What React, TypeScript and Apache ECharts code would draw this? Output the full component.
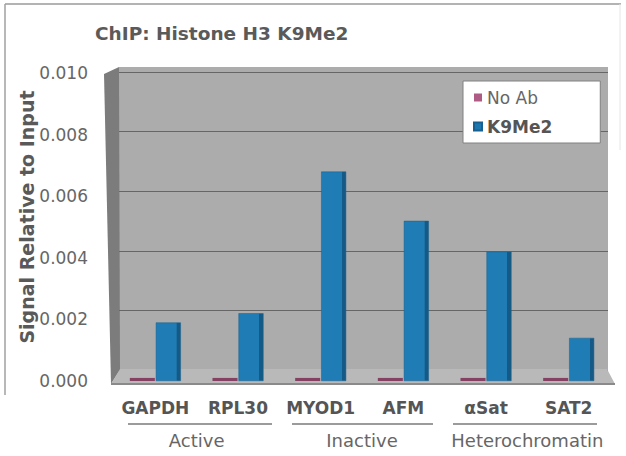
import React, { useEffect, useRef } from "react";
import * as echarts from "echarts";

const categories = ["GAPDH", "RPL30", "MYOD1", "AFM", "αSat", "SAT2"];
const groups = ["Active", "Inactive", "Heterochromatin"];
const noAbValues = [0.0001, 0.0001, 0.0001, 0.0001, 0.0001, 0.0001];
const k9me2Values = [0.0019, 0.0022, 0.0068, 0.0052, 0.0042, 0.0014];
const yMin = 0;
const yMax = 0.01;
const yStep = 0.002;

const FONT = "DejaVu Sans";

export default function App() {
  const ref = useRef<HTMLDivElement>(null);
  useEffect(() => {
    if (!ref.current) return;
    const chart = echarts.init(ref.current, null, { renderer: "svg" });
    const option: any = {
      animation: false,
      backgroundColor: "#ffffff",
      textStyle: { fontFamily: FONT },
      title: {
        text: "ChIP: Histone H3 K9Me2",
        left: 90,
        top: 19,
        textStyle: { fontFamily: FONT, fontSize: 18.5, fontWeight: "bold", color: "#5a5a5a" },
      },
      legend: {
        orient: "vertical",
        left: 463,
        top: 81,
        backgroundColor: "#ffffff",
        borderColor: "#808080",
        borderWidth: 1,
        padding: [8, 48, 8, 10],
        itemGap: 12,
        itemWidth: 8,
        itemHeight: 8,
        icon: "rect",
        data: [
          { name: "No Ab", itemStyle: { color: "#a0406e" }, textStyle: { fontFamily: FONT, fontSize: 17, color: "#666666" } },
          { name: "K9Me2", itemStyle: { color: "#1f77b0" }, textStyle: { fontFamily: FONT, fontSize: 17, fontWeight: "bold", color: "#555555" } },
        ],
      },
      grid: [
        { left: 119, right: 18, top: 72, bottom: 86, outerBoundsMode: "none", containLabel: false },
        { left: 114, right: 16, top: 73, bottom: 75, outerBoundsMode: "none", containLabel: false },
      ],
      xAxis: [
        { type: "category", gridIndex: 0, data: categories, show: false },
        {
          type: "category",
          gridIndex: 1,
          data: categories,
          axisLine: { show: false },
          axisTick: { show: false },
          axisLabel: { fontFamily: FONT, fontSize: 17, fontWeight: "bold", color: "#555555", margin: 18, interval: 0 },
        },
        {
          type: "category",
          gridIndex: 1,
          data: groups,
          position: "bottom",
          offset: 48,
          axisLine: { show: false },
          axisTick: { show: false },
          axisLabel: { fontFamily: FONT, fontSize: 18, color: "#666666", margin: 2, interval: 0 },
        },
      ],
      yAxis: [
        {
          type: "value",
          gridIndex: 0,
          min: yMin,
          max: yMax,
          interval: yStep,
          axisLabel: { show: false },
          axisLine: { show: false },
          axisTick: { show: false },
          splitLine: { show: true, lineStyle: { color: "#666666", width: 1.2 } },
        },
        {
          type: "value",
          gridIndex: 1,
          min: yMin,
          max: yMax,
          interval: yStep,
          axisLine: { show: false },
          axisTick: { show: false },
          splitLine: { show: false },
          axisLabel: {
            fontFamily: FONT,
            fontSize: 17,
            color: "#666666",
            margin: 26,
            formatter: (v: number) => v.toFixed(3),
          },
        },
      ],
      series: [
        {
          name: "No Ab",
          type: "bar",
          xAxisIndex: 1,
          yAxisIndex: 1,
          data: noAbValues,
          barWidth: 25,
          barGap: "4%",
          z: 3,
          itemStyle: { color: "#7a2b52", opacity: 0.85 },
        },
        {
          name: "K9Me2",
          type: "bar",
          xAxisIndex: 1,
          yAxisIndex: 1,
          data: k9me2Values,
          barWidth: 25,
          barGap: "4%",
          z: 3,
          itemStyle: {
            color: new echarts.graphic.LinearGradient(1, 0, 0, 0, [
              { offset: 0, color: "#155a86" },
              { offset: 0.16, color: "#155a86" },
              { offset: 0.17, color: "#1f7cb4" },
              { offset: 1, color: "#1f7cb4" },
            ]),
            borderColor: "#17608f",
            borderWidth: 0.5,
          },
        },
      ],
      graphic: [
        // frame
        { type: "line", z: -20, shape: { x1: 5, y1: 4, x2: 621, y2: 4 }, style: { stroke: "#9a9a9a", lineWidth: 1.5 } },
        { type: "line", z: -20, shape: { x1: 5, y1: 4, x2: 5, y2: 395 }, style: { stroke: "#a0a0a0", lineWidth: 1.5 } },
        { type: "line", z: -20, shape: { x1: 620, y1: 4, x2: 620, y2: 150 }, style: { stroke: "#e6e6e6", lineWidth: 1 } },
        // back wall
        { type: "rect", z: -10, shape: { x: 119, y: 67, width: 489, height: 303 }, style: { fill: "#acacac" } },
        // left wall
        {
          type: "polygon",
          z: -5,
          shape: { points: [[104, 74], [119, 67], [120, 370], [111, 384]] },
          style: { fill: "#7c7c7c" },
        },
        // floor
        {
          type: "polygon",
          z: 1,
          shape: { points: [[111, 384], [120, 369], [607, 369], [615, 384]] },
          style: { fill: "#b9b9b9" },
        },
        { type: "line", z: 1, shape: { x1: 111, y1: 384, x2: 615, y2: 384 }, style: { stroke: "#8a8a8a", lineWidth: 2 } },
        // y axis name
        {
          type: "text",
          x: 27,
          y: 217,
          rotation: Math.PI / 2,
          style: {
            text: "Signal Relative to Input",
            fontFamily: FONT,
            fontSize: 19,
            fontWeight: "bold",
            fill: "#595959",
            textAlign: "center",
            textVerticalAlign: "middle",
          },
        },
        // group underlines
        { type: "line", shape: { x1: 128, y1: 424, x2: 272, y2: 424 }, style: { stroke: "#7a7a7a", lineWidth: 1.5 } },
        { type: "line", shape: { x1: 292, y1: 424, x2: 433, y2: 424 }, style: { stroke: "#7a7a7a", lineWidth: 1.5 } },
        { type: "line", shape: { x1: 453, y1: 424, x2: 597, y2: 424 }, style: { stroke: "#7a7a7a", lineWidth: 1.5 } },
      ],
    };
    chart.setOption(option);
    return () => chart.dispose();
  }, []);
  return (
    <div
      ref={ref}
      style={{ position: "fixed", left: 0, top: 0, width: 626, height: 456 }}
    />
  );
}
